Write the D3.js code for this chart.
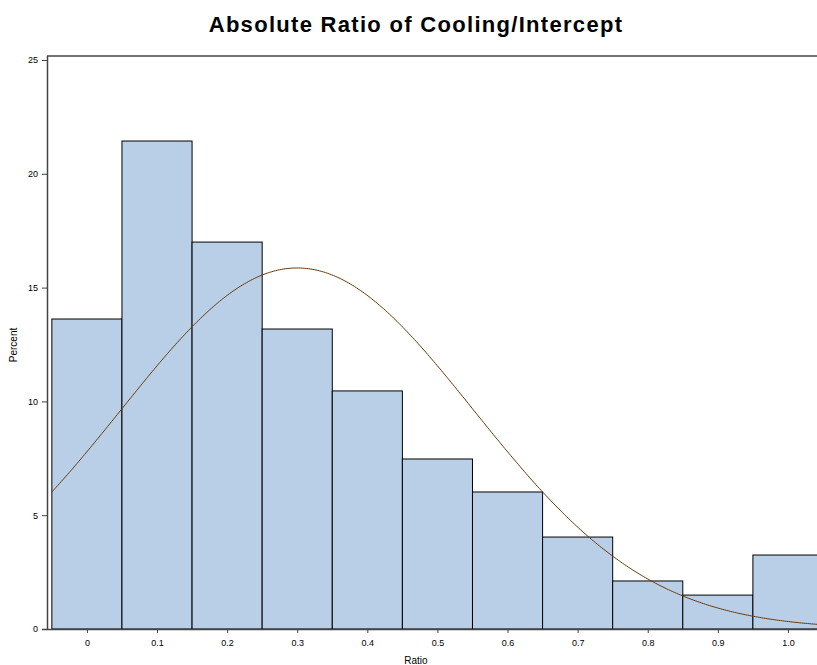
<!DOCTYPE html>
<html>
<head>
<meta charset="utf-8">
<script src="https://cdn.jsdelivr.net/npm/d3@7"></script>
<style>
  html, body { margin: 0; padding: 0; background: #fff; }
  svg { display: block; }
</style>
</head>
<body>
<svg id="chart" width="817" height="665"></svg>
<script>
// Histogram bins (midpoints) and percentages
const binMids = [0, 0.1, 0.2, 0.3, 0.4, 0.5, 0.6, 0.7, 0.8, 0.9, 1.0];
const percents = [13.62, 21.44, 17.0, 13.18, 10.46, 7.47, 6.02, 4.04, 2.11, 1.49, 3.25];
const binWidth = 0.1;
const xTicks = [0, 0.1, 0.2, 0.3, 0.4, 0.5, 0.6, 0.7, 0.8, 0.9, 1.0];
const xTickLabels = ["0", "0.1", "0.2", "0.3", "0.4", "0.5", "0.6", "0.7", "0.8", "0.9", "1.0"];
const yTicks = [0, 5, 10, 15, 20, 25];
// Fitted normal curve parameters
const normalMean = 0.3;
const normalSigma = 0.2515;

const svg = d3.select("#chart");
const plotLeft = 48, plotTop = 56, plotBottom = 629;

const x = d3.scaleLinear().domain([-0.0555, 1.05]).range([48, 823]);
const y = d3.scaleLinear().domain([0, 25]).range([plotBottom, 60]);

const font = "'Liberation Sans', Arial, sans-serif";

// Title
svg.append("text")
  .attr("x", 416).attr("y", 32)
  .attr("text-anchor", "middle")
  .attr("font-family", font)
  .attr("font-weight", "bold")
  .attr("font-size", 22)
  .attr("letter-spacing", 1.3)
  .attr("fill", "#000")
  .text("Absolute Ratio of Cooling/Intercept");

// Bars
svg.append("g").selectAll("rect")
  .data(binMids.map((m, i) => ({ m, p: percents[i] })))
  .join("rect")
  .attr("x", d => x(d.m - binWidth / 2))
  .attr("y", d => y(d.p))
  .attr("width", d => x(d.m + binWidth / 2) - x(d.m - binWidth / 2))
  .attr("height", d => y(0) - y(d.p))
  .attr("fill", "#b9cfe7")
  .attr("stroke", "#000")
  .attr("stroke-width", 1);

// Normal density curve scaled to percent per bin, spanning the bins
const curveStart = binMids[0] - binWidth / 2;
const curveEnd = binMids[binMids.length - 1] + binWidth / 2;
const curvePts = d3.range(0, 401).map(i => {
  const v = curveStart + (curveEnd - curveStart) * i / 400;
  const z = (v - normalMean) / normalSigma;
  const pct = 100 * binWidth * Math.exp(-0.5 * z * z) / (normalSigma * Math.sqrt(2 * Math.PI));
  return [v, pct];
});
svg.append("path")
  .datum(curvePts)
  .attr("fill", "none")
  .attr("stroke", "#6b3b0a")
  .attr("stroke-width", 1)
  .attr("d", d3.line().x(d => x(d[0])).y(d => y(d[1])));

// Frame: left and top lines
svg.append("line")
  .attr("x1", plotLeft - 0.5).attr("x2", plotLeft - 0.5)
  .attr("y1", plotTop).attr("y2", plotBottom)
  .attr("stroke", "#444").attr("stroke-width", 1.5);
svg.append("line")
  .attr("x1", plotLeft - 1).attr("x2", 817)
  .attr("y1", plotTop).attr("y2", plotTop)
  .attr("stroke", "#444").attr("stroke-width", 1.5);

// Y axis
const yAxis = d3.axisLeft(y).tickValues(yTicks).tickSize(5).tickPadding(4).tickFormat(d3.format("d"));
const gy = svg.append("g").attr("transform", `translate(${plotLeft - 1},0)`).call(yAxis);
gy.select(".domain").remove();
gy.selectAll("line").attr("stroke", "#444");
gy.selectAll("text").attr("font-family", font).attr("font-size", 9).attr("fill", "#000");

// X axis
const xAxis = d3.axisBottom(x).tickValues(xTicks).tickSize(4).tickPadding(7)
  .tickFormat((d, i) => xTickLabels[i]);
const gx = svg.append("g").attr("transform", `translate(0,${plotBottom})`).call(xAxis);
gx.select(".domain").attr("stroke", "#444").attr("stroke-width", 1.5)
  .attr("d", `M${plotLeft - 6},0.5H817`);
gx.selectAll("line").attr("stroke", "#444");
gx.selectAll("text").attr("font-family", font).attr("font-size", 9).attr("fill", "#000");

// Axis titles
svg.append("text")
  .attr("x", 416).attr("y", 664)
  .attr("text-anchor", "middle")
  .attr("font-family", font).attr("font-size", 10)
  .text("Ratio");
svg.append("text")
  .attr("transform", "translate(17,345) rotate(-90)")
  .attr("text-anchor", "middle")
  .attr("font-family", font).attr("font-size", 10)
  .text("Percent");
</script>
</body>
</html>
